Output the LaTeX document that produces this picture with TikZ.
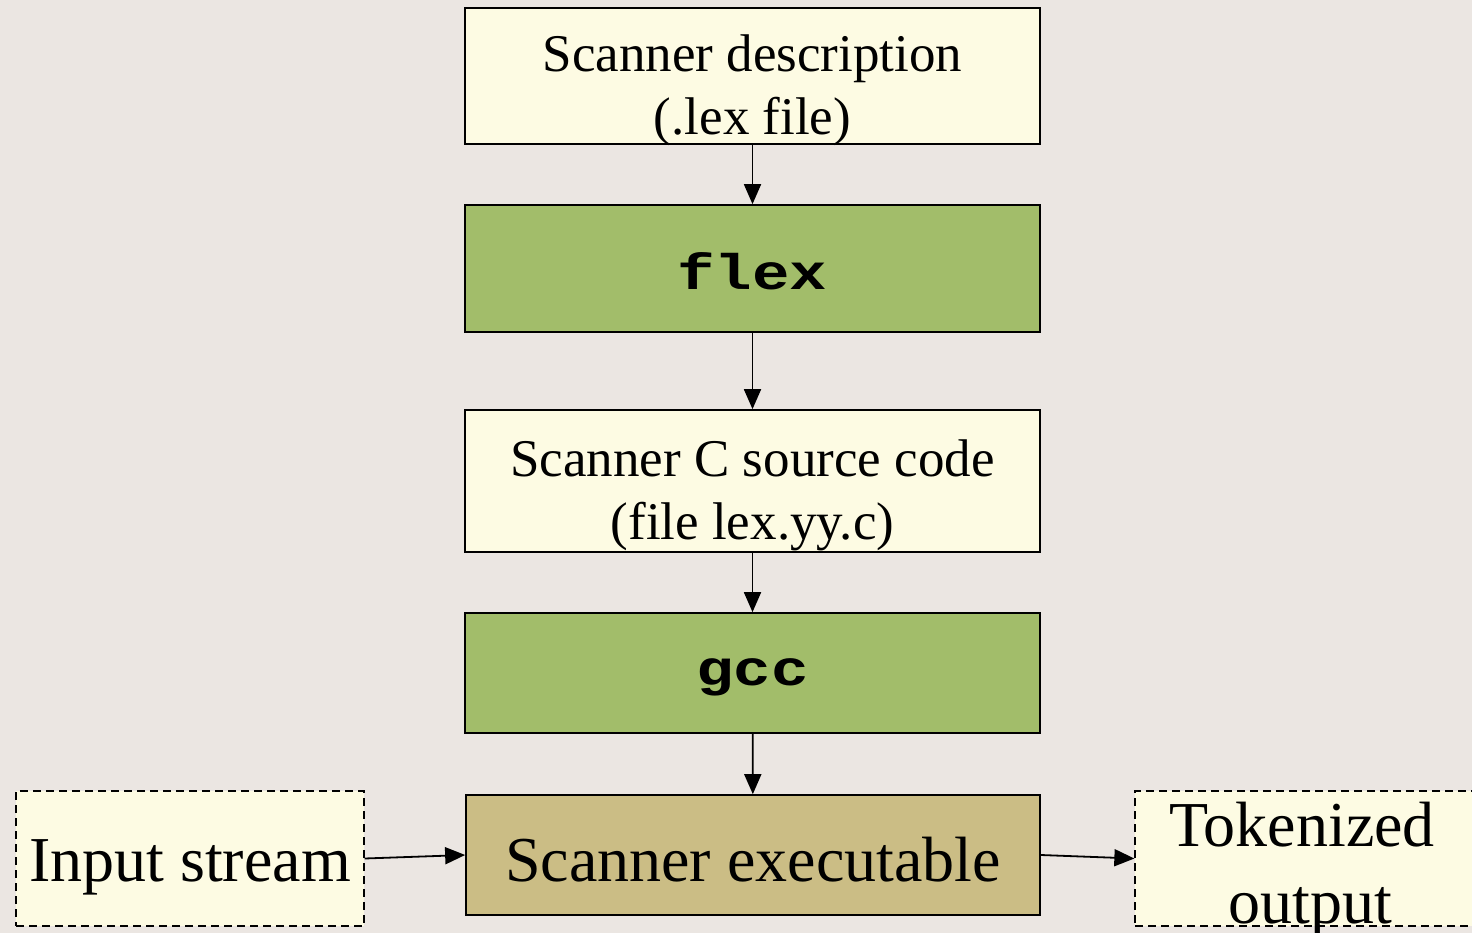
\documentclass[tikz,border=0pt]{standalone}
\usepackage{fontspec}
\setmainfont{Liberation Serif}
\setmonofont{Liberation Mono}
\usetikzlibrary{arrows.meta}
\definecolor{bg}{RGB}{235,230,226}
\definecolor{cream}{RGB}{253,251,227}
\definecolor{lgreen}{RGB}{162,189,106}
\definecolor{tan}{RGB}{203,189,133}
\newcommand\lowertxt[2]{\raisebox{-#1}[\dimexpr\height+#1\relax][\dimexpr\depth-#1\relax]{#2}}
\tikzset{
  box/.style={draw=black, line width=1.7pt, inner sep=0pt, align=center, minimum width=575pt},
  lbox/.style={box, fill=cream, font=\fontsize{53}{63}\selectfont},
  tool/.style={box, fill=lgreen, font=\fontsize{50}{60}\selectfont\ttfamily\bfseries},
  dbox/.style={draw=black, line width=1.3pt, dash pattern=on 8pt off 5pt, fill=cream, inner sep=0pt},
  big/.style={font=\fontsize{64}{74}\selectfont, align=center, inner sep=0pt},
  arr/.style={-{Triangle[length=20pt,width=17pt]}, line width=1.8pt}
}
\begin{document}
\begin{tikzpicture}[x=1pt,y=-1pt]
\fill[bg] (0,0) rectangle (1472,933);
\useasboundingbox (0,0) rectangle (1472,933);
\node[lbox, minimum height=136pt] (desc) at (752.5,76) {\lowertxt{7pt}{Scanner description}\\\lowertxt{7pt}{(.lex file)}};
\node[tool, minimum height=127pt] (flex) at (752.5,268.5) {\lowertxt{2pt}{\scalebox{1.25}[1]{flex}}};
\node[lbox, minimum height=142pt] (src) at (752.5,481) {\lowertxt{7pt}{Scanner C source code}\\\lowertxt{7pt}{(file lex.yy.c)}};
\node[tool, minimum height=120pt] (gcc) at (752.5,673) {\lowertxt{2pt}{\scalebox{1.25}[1]{gcc}}};
\node[box, fill=tan, minimum width=574pt, minimum height=120pt, big] (exec) at (753,855) {\lowertxt{3pt}{Scanner executable}};
\node[dbox, minimum width=348pt, minimum height=135pt] (in) at (190,858.5) {};
\node[big] (intext) at (190,867) {Input stream};
\node[dbox, minimum width=345pt, minimum height=135pt] (tok) at (1307.5,858.5) {};
\node[big, font=\fontsize{64}{77}\selectfont] (toktext) at (1302,870) {Tokenized\\\hspace*{16pt}output};
\draw[arr] (desc) -- (flex);
\draw[arr] (flex) -- (src);
\draw[arr] (src) -- (gcc);
\draw[arr] (gcc) -- (exec);
\draw[arr] (in.east) -- (exec.west);
\draw[arr] (exec.east) -- (tok.west);
\end{tikzpicture}
\end{document}
